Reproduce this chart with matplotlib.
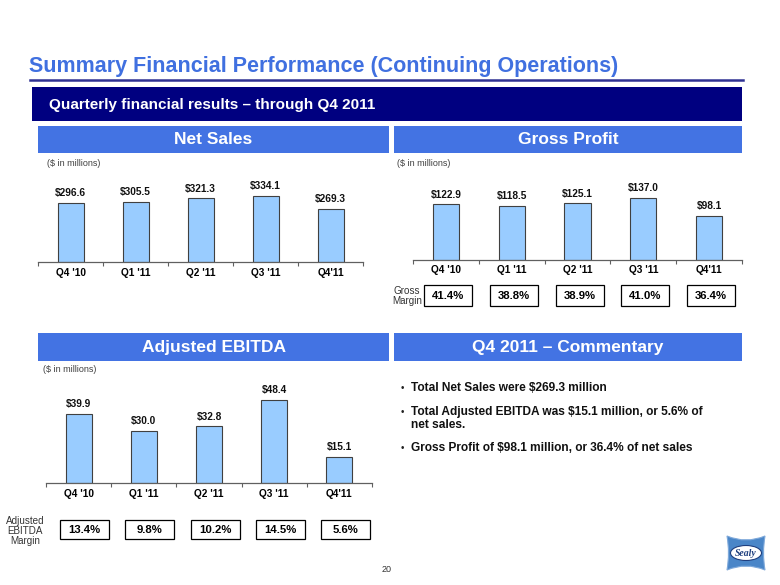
import matplotlib
matplotlib.use('Agg')
import matplotlib.pyplot as plt
from matplotlib.patches import Rectangle, Ellipse, PathPatch
from matplotlib.path import Path
import matplotlib.transforms as mtrans
import numpy as np

plt.rcParams['font.family'] = ['Liberation Sans', 'DejaVu Sans']

# ---------------- data ----------------
quarters = ["Q4 '10", "Q1 '11", "Q2 '11", "Q3 '11", "Q4'11"]
net_sales = [296.6, 305.5, 321.3, 334.1, 269.3]
gross_profit = [122.9, 118.5, 125.1, 137.0, 98.1]
gross_margin = ["41.4%", "38.8%", "38.9%", "41.0%", "36.4%"]
adj_ebitda = [39.9, 30.0, 32.8, 48.4, 15.1]
ebitda_margin = ["13.4%", "9.8%", "10.2%", "14.5%", "5.6%"]
commentary = [
    ["Total Net Sales were $269.3 million"],
    ["Total Adjusted EBITDA was $15.1 million, or 5.6% of", "net sales."],
    ["Gross Profit of $98.1 million, or 36.4% of net sales"],
]

# ---------------- figure ----------------
W, H = 780, 585
fig = plt.figure(figsize=(7.8, 5.85), dpi=100)
fig.patch.set_facecolor('white')
px = mtrans.Affine2D().scale(1 / W, -1 / H).translate(0, 1) + fig.transFigure

TITLE_C = '#4070E0'
HEAD_C = '#4373E3'
NAVY = '#000080'
BAR_C = '#99CCFF'
EDGE_C = '#404040'


def rect(x0, y0, x1, y1, fc, ec='none', lw=0, transform=px):
    fig.add_artist(Rectangle((x0, y0), x1 - x0, y1 - y0, transform=transform,
                             fc=fc, ec=ec, lw=lw))


def txt(x, y, s, **kw):
    fig.text(x, y, s, transform=px, **kw)


# title
txt(29, 72, 'Summary Financial Performance (Continuing Operations)',
    fontsize=15.5, fontweight='bold', color=TITLE_C, va='baseline', ha='left')
fig.add_artist(plt.Line2D([30, 743], [80, 80], transform=px, color='#2E3192', lw=1.8))

# navy banner
rect(32, 87, 742, 121, NAVY)
txt(49, 104.5, 'Quarterly financial results \u2013 through Q4 2011', fontsize=11,
    fontweight='bold', color='white', va='center', ha='left')

# section headers
headers = [(38, 126, 389, 153, 'Net Sales'), (394, 126, 742, 153, 'Gross Profit'),
           (38, 333, 389, 361, 'Adjusted EBITDA'), (394, 333, 742, 361, 'Q4 2011 \u2013 Commentary')]
for x0, y0, x1, y1, s in headers:
    rect(x0, y0, x1, y1, HEAD_C)
    txt((x0 + x1) / 2, (y0 + y1) / 2 + 0.5, s, fontsize=12.5, fontweight='bold',
        color='white', ha='center', va='center')


def axes_px(x0, y_top, x1, y_bot):
    return fig.add_axes([x0 / W, 1 - y_bot / H, (x1 - x0) / W, (y_bot - y_top) / H])


def bar_chart(ax, values, ymax):
    x = np.arange(len(quarters)) + 0.5
    ax.bar(x, values, width=0.4, color=BAR_C, edgecolor=EDGE_C, lw=0.8, zorder=2)
    ax.set_xlim(0, len(quarters))
    ax.set_ylim(0, ymax)
    for sp in ['top', 'right', 'left']:
        ax.spines[sp].set_visible(False)
    ax.spines['bottom'].set_color('#606060')
    ax.spines['bottom'].set_linewidth(0.9)
    ax.set_xticks(np.arange(len(quarters) + 1))
    ax.set_xticklabels([])
    ax.set_xticks(x, minor=True)
    ax.set_xticklabels(quarters, minor=True, fontsize=7.3, fontweight='bold')
    ax.tick_params(axis='x', which='major', length=3, color='#606060', width=0.8, direction='out')
    ax.tick_params(axis='x', which='minor', length=0, pad=4)
    ax.set_yticks([])
    ax.patch.set_alpha(0)
    for xi, v in zip(x, values):
        ax.annotate(f'${v:.1f}', (xi, v), xytext=(0, 3.5), textcoords='offset points',
                    ha='center', va='bottom', fontsize=7.3, fontweight='bold', color='#111111')
    return x


def margin_boxes(ax, labels, y0, y1, width_px, offset_px, step_px):
    tr = mtrans.blended_transform_factory(ax.transData, px)
    w = width_px / step_px
    off = offset_px / step_px
    for i, s in enumerate(labels):
        cx = i + 0.5 + off
        ax.add_artist(Rectangle((cx - w / 2, y0), w, y1 - y0, transform=tr, fc='white',
                                ec='black', lw=0.9, clip_on=False))
        ax.text(cx, (y0 + y1) / 2 + 0.5, s, transform=tr, ha='center', va='center',
                fontsize=8.2, fontweight='bold', color='black', clip_on=False)


# Net Sales
txt(47, 164, '($ in millions)', fontsize=6.5, color='#404040', va='center')
ax1 = axes_px(38, 170, 363, 262)
bar_chart(ax1, net_sales, 92 * 5.05)

# Gross Profit
txt(397, 163, '($ in millions)', fontsize=6.5, color='#404040', va='center')
ax2 = axes_px(413, 170, 742, 259.5)
bar_chart(ax2, gross_profit, 89.5 * 2.23)
margin_boxes(ax2, gross_margin, 285, 306, 48, 2, 65.8)
txt(407, 296, 'Gross\nMargin', fontsize=7.1, color='#333333', ha='center', va='center',
    linespacing=1.05)

# Adjusted EBITDA
txt(43, 369, '($ in millions)', fontsize=6.5, color='#404040', va='center')
ax3 = axes_px(46, 380, 372, 483)
bar_chart(ax3, adj_ebitda, 103 * 0.58)
margin_boxes(ax3, ebitda_margin, 520, 539, 49, 6, 65.2)
txt(25, 531, 'Adjusted\nEBITDA\nMargin', fontsize=7.1, color='#333333', ha='center',
    va='center', linespacing=1.05)

# Commentary
line_y = [[388], [412, 425], [448]]
for lines, ys in zip(commentary, line_y):
    txt(402, ys[0], '\u2022', fontsize=7, color='#222222', ha='center', va='center')
    for s, y in zip(lines, ys):
        txt(411, y, s, fontsize=8.6, fontweight='bold', color='#111111', ha='left', va='center')

# page number
txt(387, 570, '20', fontsize=6.5, color='#333333', ha='center', va='center')

# Sealy logo (approximate)
x0, x1, y0, y1 = 727, 765, 536, 570
xm, ym = (x0 + x1) / 2, (y0 + y1) / 2
verts = [(x0, y0), (xm, y0 + 8), (x1, y0),
         (x1 - 3, ym), (x1, y1),
         (xm, y1 - 8), (x0, y1),
         (x0 + 3, ym), (x0, y0), (x0, y0)]
codes = [Path.MOVETO, Path.CURVE3, Path.CURVE3, Path.CURVE3, Path.CURVE3,
         Path.CURVE3, Path.CURVE3, Path.CURVE3, Path.CURVE3, Path.CLOSEPOLY]
fig.add_artist(PathPatch(Path(verts, codes), transform=px, fc='#4A86C8', ec='#7FA9DA', lw=0.8))
fig.add_artist(Ellipse((xm, ym), 31, 15, transform=px, fc='white', ec='#1F3F7F', lw=0.8))
txt(xm, ym + 0.5, 'Sealy', fontsize=7, fontstyle='italic', fontweight='bold',
    family=['Liberation Serif', 'DejaVu Serif'], color='#1F3F7F', ha='center', va='center')

fig.savefig('out.png', dpi=100)
